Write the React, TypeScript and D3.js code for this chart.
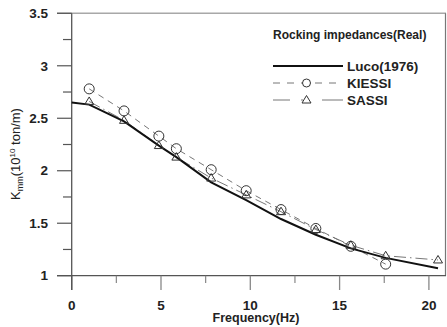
import React from 'react';
import * as d3 from 'd3';

const lucoFreq = [0, 0.98, 2.93, 4.88, 5.86, 7.81, 9.77, 11.72, 13.67, 15.63, 17.58, 20.51];
const lucoVal = [2.65, 2.63, 2.47, 2.24, 2.13, 1.89, 1.72, 1.54, 1.39, 1.26, 1.17, 1.07];

const kiessiFreq = [0.98, 2.93, 4.88, 5.86, 7.81, 9.77, 11.72, 13.67, 15.63, 17.58];
const kiessiVal = [2.78, 2.57, 2.33, 2.21, 2.01, 1.81, 1.63, 1.45, 1.28, 1.11];

const sassiFreq = [0.98, 2.93, 4.88, 5.86, 7.81, 9.77, 11.72, 13.67, 15.63, 17.58, 20.51];
const sassiVal = [2.66, 2.48, 2.24, 2.13, 1.93, 1.77, 1.61, 1.44, 1.29, 1.19, 1.15];

const xTicks = [0, 5, 10, 15, 20];
const xMinor = [2.5, 7.5, 12.5, 17.5];
const yTicks = [1, 1.5, 2, 2.5, 3, 3.5];
const yMinor = [1.25, 1.75, 2.25, 2.75, 3.25];

const W = 447;
const H = 327;
const font = "'Liberation Sans', Arial, sans-serif";

const App = () => {
  const x = d3.scaleLinear().domain([0, 20]).range([71.7, 428.9]);
  const y = d3.scaleLinear().domain([1, 3.5]).range([275.7, 13.3]);

  const line = d3.line<[number, number]>()
    .x(d => x(d[0]))
    .y(d => y(d[1]));

  const luco = lucoFreq.map((f, i) => [f, lucoVal[i]] as [number, number]);
  const kiessi = kiessiFreq.map((f, i) => [f, kiessiVal[i]] as [number, number]);
  const sassi = sassiFreq.map((f, i) => [f, sassiVal[i]] as [number, number]);

  const tri = (cx: number, cy: number) =>
    `M${cx},${cy - 4.5}L${cx + 4.5},${cy + 3}L${cx - 4.5},${cy + 3}Z`;

  const axisColor = '#555';
  const x0 = x(0);
  const yBase = y(1);

  return (
    <svg width={W} height={H} style={{ position: 'absolute', left: 0, top: 0, background: '#fff' }}
      fontFamily={font}>
      {/* frame */}
      <line x1={57} x2={446} y1={y(3.5)} y2={y(3.5)} stroke="#a8a8a8" strokeWidth={1.5} />
      <line x1={445.5} x2={445.5} y1={y(3.5)} y2={yBase} stroke="#777" strokeWidth={1.2} />
      <line x1={57} x2={446} y1={yBase} y2={yBase} stroke={axisColor} strokeWidth={1.3} />
      <line x1={x0} x2={x0} y1={y(3.5)} y2={290} stroke={axisColor} strokeWidth={1.3} />

      {/* y ticks */}
      {yTicks.map(t => (
        <g key={'y' + t}>
          <line x1={57} x2={x0} y1={y(t)} y2={y(t)} stroke={axisColor} strokeWidth={1.2} />
          <text x={48} y={y(t)} dy="0.35em" textAnchor="end" fontSize={13.5} fontWeight="bold" fill="#222">
            {t}
          </text>
        </g>
      ))}
      {yMinor.map(t => (
        <line key={'ym' + t} x1={63} x2={x0} y1={y(t)} y2={y(t)} stroke={axisColor} strokeWidth={1.2} />
      ))}

      {/* x ticks */}
      {xTicks.map(t => (
        <g key={'x' + t}>
          <line x1={x(t)} x2={x(t)} y1={yBase} y2={290} stroke={t === 0 ? axisColor : '#888'} strokeWidth={1.3} />
          <text x={x(t)} y={305} dy="0.35em" textAnchor="middle" fontSize={13.5} fontWeight="bold" fill="#222">
            {t}
          </text>
        </g>
      ))}
      {xMinor.map(t => (
        <line key={'xm' + t} x1={x(t)} x2={x(t)} y1={yBase} y2={283} stroke="#888" strokeWidth={1.2} />
      ))}

      <text x={256} y={318} dy="0.35em" textAnchor="middle" fontSize={12.5} fontWeight="bold" fill="#222">
        Frequency(Hz)
      </text>

      <text transform="translate(20,154) rotate(-90)" textAnchor="middle" fontSize={13} fill="#222">
        K<tspan fontSize={9} dy={3}>mm</tspan><tspan dy={-3}>(10</tspan>
        <tspan fontSize={8} dy={-5}>10</tspan><tspan dy={5}> ton/m)</tspan>
      </text>

      {/* series */}
      <path d={line(kiessi) || ''} fill="none" stroke="#777" strokeWidth={1} strokeDasharray="6,5" />
      <path d={line(sassi) || ''} fill="none" stroke="#777" strokeWidth={1} strokeDasharray="12,4,1.5,4" />
      <path d={line(luco) || ''} fill="none" stroke="#111" strokeWidth={2} />

      {kiessi.map((d, i) => (
        <circle key={'c' + i} cx={x(d[0])} cy={y(d[1])} r={5} fill="none" stroke="#333" strokeWidth={1} />
      ))}
      {sassi.map((d, i) => (
        <path key={'t' + i} d={tri(x(d[0]), y(d[1]))} fill="none" stroke="#333" strokeWidth={1} />
      ))}

      {/* legend */}
      <text x={273} y={35} dy="0.35em" fontSize={12} fontWeight="bold" fill="#222">
        Rocking impedances(Real)
      </text>
      <line x1={273} x2={343} y1={66} y2={66} stroke="#111" strokeWidth={2} />
      <text x={347} y={66} dy="0.35em" fontSize={13.5} fontWeight="bold" fill="#222">Luco(1976)</text>

      <line x1={273} x2={343} y1={83} y2={83} stroke="#777" strokeWidth={1} strokeDasharray="7,7" />
      <circle cx={306.5} cy={83} r={4} fill="#fff" stroke="#333" strokeWidth={1} />
      <text x={347} y={83} dy="0.35em" fontSize={13.5} fontWeight="bold" fill="#222">KIESSI</text>

      <line x1={273} x2={343} y1={100} y2={100} stroke="#777" strokeWidth={1} strokeDasharray="17,11,2,19,21" />
      <path d={tri(306.5, 100)} fill="#fff" stroke="#333" strokeWidth={1} />
      <text x={347} y={100} dy="0.35em" fontSize={13.5} fontWeight="bold" fill="#222">SASSI</text>
    </svg>
  );
};

export default App;
